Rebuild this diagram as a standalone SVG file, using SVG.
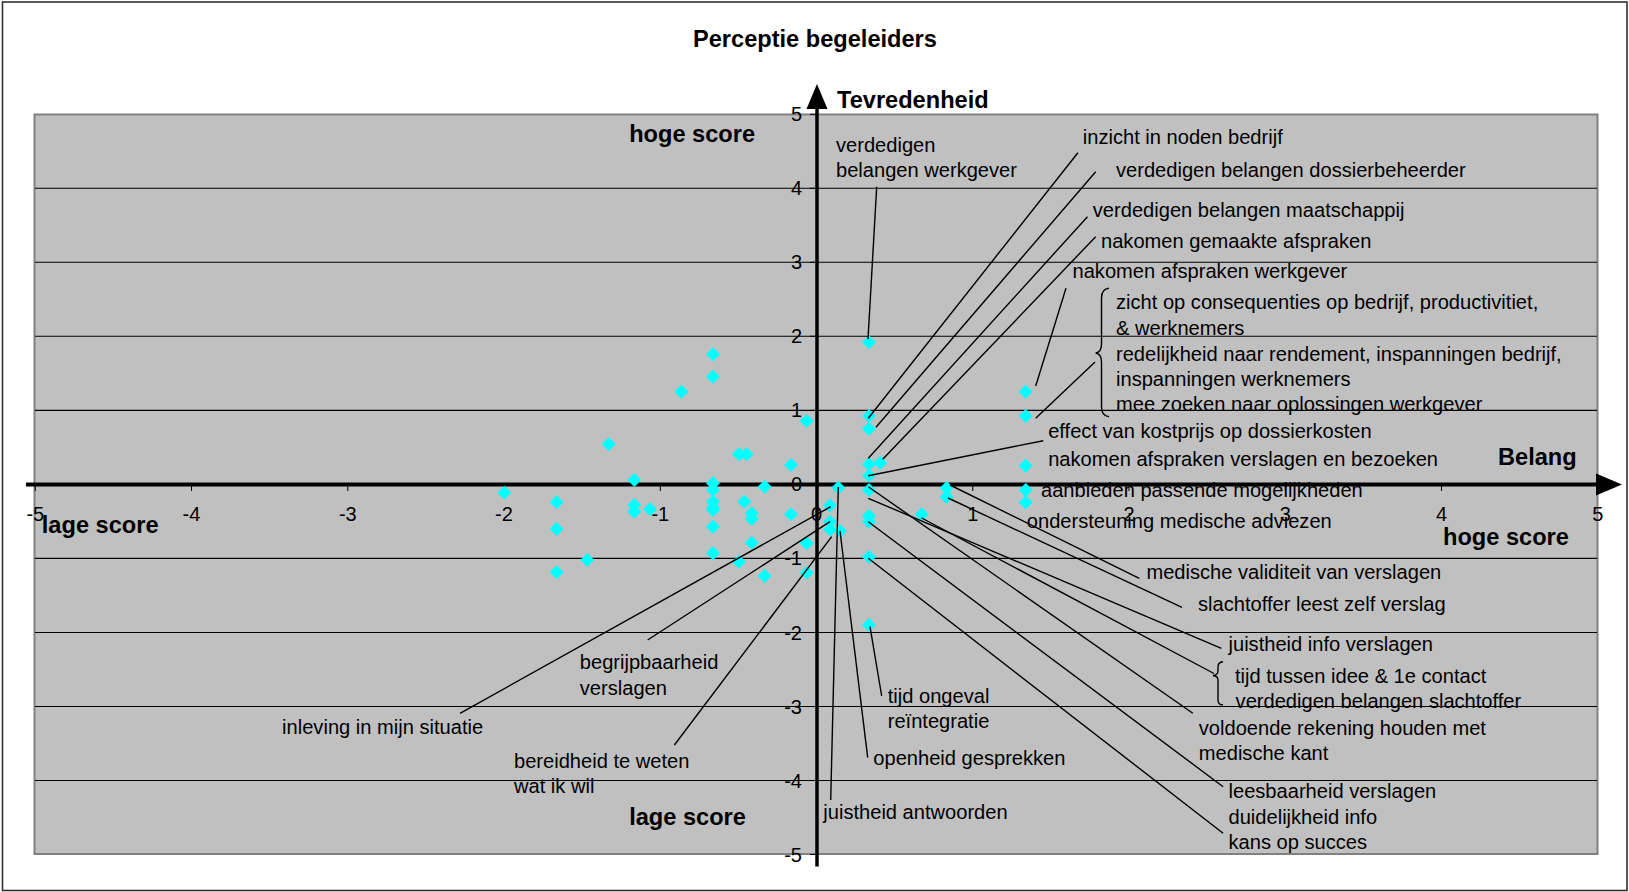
<svg xmlns="http://www.w3.org/2000/svg" xmlns:xlink="http://www.w3.org/1999/xlink" width="1629" height="892" viewBox="0 0 1629 892">
<style>
text{font-family:"Liberation Sans",Arial,sans-serif;fill:#000}
.t{font-size:20.1px}
.b{font-size:23.6px;font-weight:bold}
.tx{font-size:20px;text-anchor:middle}
.ty{font-size:20px;text-anchor:end}
.grid line{stroke:#000;stroke-width:1.1}
#connectors line,#connectors path{stroke:#000;stroke-width:1.4;fill:none}
.tick line{stroke:#000;stroke-width:1}
</style>
<defs>
<path id="d" d="M0,-7 L7,0 L0,7 L-7,0Z" fill="#00FFFF"/>
</defs>
<rect x="0" y="0" width="1629" height="892" fill="#fff"/>
<rect x="2.5" y="2" width="1624.5" height="888.5" fill="none" stroke="#333" stroke-width="1.6"/>
<g id="title"><text class="b" x="693" y="46.7">Perceptie begeleiders</text></g>
<g id="plot"><rect x="34.5" y="114.5" width="1563" height="739.5" fill="#C0C0C0" stroke="#808080" stroke-width="2"/></g>
<g class="grid" id="grid">
<line x1="35" y1="188.3" x2="1597" y2="188.3"/>
<line x1="35" y1="262.3" x2="1597" y2="262.3"/>
<line x1="35" y1="336.3" x2="1597" y2="336.3"/>
<line x1="35" y1="410.4" x2="1597" y2="410.4"/>
<line x1="35" y1="558.4" x2="1597" y2="558.4"/>
<line x1="35" y1="632.5" x2="1597" y2="632.5"/>
<line x1="35" y1="706.5" x2="1597" y2="706.5"/>
<line x1="35" y1="780.5" x2="1597" y2="780.5"/>
</g>
<g class="tick" id="ticks">
<line x1="35.3" y1="484" x2="35.3" y2="491"/>
<line x1="191.5" y1="484" x2="191.5" y2="491"/>
<line x1="347.8" y1="484" x2="347.8" y2="491"/>
<line x1="504" y1="484" x2="504" y2="491"/>
<line x1="660.3" y1="484" x2="660.3" y2="491"/>
<line x1="972.8" y1="484" x2="972.8" y2="491"/>
<line x1="1129" y1="484" x2="1129" y2="491"/>
<line x1="1285.3" y1="484" x2="1285.3" y2="491"/>
<line x1="1441.5" y1="484" x2="1441.5" y2="491"/>
<line x1="810" y1="114.3" x2="817" y2="114.3"/>
<line x1="810" y1="188.3" x2="817" y2="188.3"/>
<line x1="810" y1="262.3" x2="817" y2="262.3"/>
<line x1="810" y1="336.3" x2="817" y2="336.3"/>
<line x1="810" y1="410.4" x2="817" y2="410.4"/>
<line x1="810" y1="558.4" x2="817" y2="558.4"/>
<line x1="810" y1="632.5" x2="817" y2="632.5"/>
<line x1="810" y1="706.5" x2="817" y2="706.5"/>
<line x1="810" y1="780.5" x2="817" y2="780.5"/>
<line x1="810" y1="854.5" x2="817" y2="854.5"/>
</g>
<g id="axis-labels">
<text class="tx" x="35.3" y="520.5">-5</text>
<text class="tx" x="191.5" y="520.5">-4</text>
<text class="tx" x="347.8" y="520.5">-3</text>
<text class="tx" x="504" y="520.5">-2</text>
<text class="tx" x="660.3" y="520.5">-1</text>
<text class="tx" x="816.5" y="520.5">0</text>
<text class="tx" x="972.8" y="520.5">1</text>
<text class="tx" x="1129" y="520.5">2</text>
<text class="tx" x="1285.3" y="520.5">3</text>
<text class="tx" x="1441.5" y="520.5">4</text>
<text class="tx" x="1597.8" y="520.5">5</text>
<text class="ty" x="802" y="121.3">5</text>
<text class="ty" x="802" y="195.3">4</text>
<text class="ty" x="802" y="269.3">3</text>
<text class="ty" x="802" y="343.3">2</text>
<text class="ty" x="802" y="417.4">1</text>
<text class="ty" x="802" y="491.4">0</text>
<text class="ty" x="802" y="565.4">-1</text>
<text class="ty" x="802" y="639.5">-2</text>
<text class="ty" x="802" y="713.5">-3</text>
<text class="ty" x="802" y="787.5">-4</text>
<text class="ty" x="802" y="861.5">-5</text>
</g>
<g id="axes">
<line x1="26" y1="484.4" x2="1598" y2="484.4" stroke="#000" stroke-width="4"/>
<polygon points="1596,473.4 1622,484.4 1596,495.4" fill="#000"/>
<line x1="817" y1="866.5" x2="817" y2="107" stroke="#000" stroke-width="3.5"/>
<polygon points="806.5,109 817,84 827.5,109" fill="#000"/>
</g>
<g id="points">
<use href="#d" x="504.3" y="492.7"/>
<use href="#d" x="556.7" y="502.3"/>
<use href="#d" x="556.7" y="529"/>
<use href="#d" x="556.7" y="572.3"/>
<use href="#d" x="587.3" y="560"/>
<use href="#d" x="608.7" y="444.3"/>
<use href="#d" x="634.3" y="480"/>
<use href="#d" x="634.3" y="505"/>
<use href="#d" x="634.3" y="511.7"/>
<use href="#d" x="650" y="509.3"/>
<use href="#d" x="681.3" y="391.7"/>
<use href="#d" x="713" y="354.3"/>
<use href="#d" x="713" y="376.7"/>
<use href="#d" x="713" y="483.3"/>
<use href="#d" x="713" y="490"/>
<use href="#d" x="713" y="501.7"/>
<use href="#d" x="713" y="507.7"/>
<use href="#d" x="713" y="510"/>
<use href="#d" x="713" y="526.7"/>
<use href="#d" x="713" y="553.3"/>
<use href="#d" x="739" y="454.3"/>
<use href="#d" x="746.7" y="454.3"/>
<use href="#d" x="744.3" y="501.7"/>
<use href="#d" x="751.7" y="513.3"/>
<use href="#d" x="751.7" y="519"/>
<use href="#d" x="751.7" y="542.7"/>
<use href="#d" x="739" y="561.7"/>
<use href="#d" x="764.7" y="486.7"/>
<use href="#d" x="764.7" y="576"/>
<use href="#d" x="791" y="465"/>
<use href="#d" x="791" y="514.3"/>
<use href="#d" x="806.7" y="421"/>
<use href="#d" x="806.7" y="543.3"/>
<use href="#d" x="806.7" y="572.7"/>
<use href="#d" x="838.3" y="487.7"/>
<use href="#d" x="830" y="505.5"/>
<use href="#d" x="830" y="521.7"/>
<use href="#d" x="830" y="529.5"/>
<use href="#d" x="840" y="531"/>
<use href="#d" x="869" y="342.3"/>
<use href="#d" x="869" y="416"/>
<use href="#d" x="869" y="429"/>
<use href="#d" x="869" y="464.3"/>
<use href="#d" x="880.3" y="462.7"/>
<use href="#d" x="869" y="475.5"/>
<use href="#d" x="869" y="490"/>
<use href="#d" x="869" y="516"/>
<use href="#d" x="869" y="521.7"/>
<use href="#d" x="869" y="557"/>
<use href="#d" x="869" y="625"/>
<use href="#d" x="921.7" y="514.3"/>
<use href="#d" x="946.7" y="488"/>
<use href="#d" x="946.7" y="497"/>
<use href="#d" x="1025.7" y="391.7"/>
<use href="#d" x="1025.7" y="416"/>
<use href="#d" x="1025.7" y="465.7"/>
<use href="#d" x="1025.7" y="490"/>
<use href="#d" x="1025.7" y="502.5"/>
</g>
<g id="connectors">
<line x1="876.7" y1="186.7" x2="868" y2="339.3"/>
<line x1="1077.9" y1="152.7" x2="868.3" y2="418.3"/>
<line x1="1095.7" y1="171.7" x2="876" y2="427.3"/>
<line x1="1087.5" y1="216.7" x2="868.3" y2="458.3"/>
<line x1="1095.7" y1="236.7" x2="882.7" y2="459.3"/>
<line x1="1066" y1="288.3" x2="1035.7" y2="386"/>
<line x1="1095" y1="362" x2="1035.7" y2="418.3"/>
<path d="M1109,288.3 Q1101.5,289 1101.5,298 L1101.5,344 Q1101.5,352 1095.7,353 Q1101.5,354 1101.5,362 L1101.5,407 Q1101.5,416 1109,416.7"/>
<line x1="1043.3" y1="440.7" x2="868.3" y2="475.7"/>
<line x1="950" y1="485" x2="1139.3" y2="578.3"/>
<line x1="948" y1="498" x2="1182" y2="607.3"/>
<line x1="868.3" y1="498.3" x2="1221.4" y2="648.3"/>
<line x1="921.7" y1="518" x2="1214" y2="673.5"/>
<path d="M1223,661.7 Q1218,662 1218,667 L1218,671 Q1218,675 1213,675.5 Q1218,676 1218,680 L1218,700 Q1218,705 1223,705"/>
<line x1="868.3" y1="486.7" x2="1192.8" y2="713.3"/>
<line x1="868.3" y1="521.7" x2="1223.1" y2="786.7"/>
<line x1="868.3" y1="558.3" x2="1223.1" y2="833.3"/>
<line x1="870" y1="626.7" x2="881.7" y2="696"/>
<line x1="840" y1="531" x2="867.7" y2="757.7"/>
<line x1="838.3" y1="487" x2="830.7" y2="800"/>
<line x1="830.7" y1="506.7" x2="460" y2="713.3"/>
<line x1="830" y1="521.7" x2="647.6" y2="640"/>
<line x1="831.7" y1="536.7" x2="674.4" y2="745"/>
</g>
<g id="corner-labels">
<text class="b" x="629.2" y="141.7">hoge score</text>
<text class="b" x="41.8" y="532.7">lage score</text>
<text class="b" x="1443" y="544.5">hoge score</text>
<text class="b" x="629.2" y="825">lage score</text>
<text class="b" x="837" y="108.3">Tevredenheid</text>
<text class="b" x="1498" y="465">Belang</text>
</g>
<g id="label-werkgever"><text class="t" x="836" y="151.7">verdedigen</text><text class="t" x="836" y="176.7">belangen werkgever</text></g>
<g id="label-inzicht"><text class="t" x="1082.8" y="144">inzicht in noden bedrijf</text></g>
<g id="label-dossierbeheerder"><text class="t" x="1116" y="176.7">verdedigen belangen dossierbeheerder</text></g>
<g id="label-maatschappij"><text class="t" x="1092.8" y="217.3">verdedigen belangen maatschappij</text></g>
<g id="label-gemaakte"><text class="t" x="1101" y="248.3">nakomen gemaakte afspraken</text></g>
<g id="label-afspraken-werkgever"><text class="t" x="1072.5" y="278.3">nakomen afspraken werkgever</text></g>
<g id="label-brace-group">
<text class="t" x="1116" y="309.3">zicht op consequenties op bedrijf, productivitiet,</text>
<text class="t" x="1116" y="335">&amp; werknemers</text>
<text class="t" x="1116" y="360.7">redelijkheid naar rendement, inspanningen bedrijf,</text>
<text class="t" x="1116" y="386">inspanningen werknemers</text>
<text class="t" x="1116" y="411">mee zoeken naar oplossingen werkgever</text>
</g>
<g id="label-effect"><text class="t" x="1048.2" y="438.3">effect van kostprijs op dossierkosten</text></g>
<g id="label-verslagen-bezoeken"><text class="t" x="1048.2" y="466">nakomen afspraken verslagen en bezoeken</text></g>
<g id="label-aanbieden"><text class="t" x="1041" y="496.7">aanbieden passende mogelijkheden</text></g>
<g id="label-ondersteuning"><text class="t" x="1026.8" y="527.7">ondersteuning medische adviezen</text></g>
<g id="label-validiteit"><text class="t" x="1146.4" y="579">medische validiteit van verslagen</text></g>
<g id="label-slachtoffer-leest"><text class="t" x="1198" y="610.7">slachtoffer leest zelf verslag</text></g>
<g id="label-juistheid-info"><text class="t" x="1228.5" y="650.7">juistheid info verslagen</text></g>
<g id="label-tijd-tussen"><text class="t" x="1235" y="682.7">tijd tussen idee &amp; 1e contact</text><text class="t" x="1235.6" y="708.3">verdedigen belangen slachtoffer</text></g>
<g id="label-voldoende"><text class="t" x="1198.8" y="735">voldoende rekening houden met</text><text class="t" x="1198.8" y="760">medische kant</text></g>
<g id="label-leesbaarheid"><text class="t" x="1228.5" y="798.3">leesbaarheid verslagen</text><text class="t" x="1228.5" y="824.3">duidelijkheid info</text><text class="t" x="1228.5" y="849.3">kans op succes</text></g>
<g id="label-tijd-ongeval"><text class="t" x="887.7" y="703.3">tijd ongeval</text><text class="t" x="887.7" y="728.3">reïntegratie</text></g>
<g id="label-openheid"><text class="t" x="873.3" y="765">openheid gesprekken</text></g>
<g id="label-juistheid-antwoorden"><text class="t" x="823.3" y="819.3">juistheid antwoorden</text></g>
<g id="label-bereidheid"><text class="t" x="514" y="767.7">bereidheid te weten</text><text class="t" x="514" y="793.3">wat ik wil</text></g>
<g id="label-inleving"><text class="t" x="282.1" y="734">inleving in mijn situatie</text></g>
<g id="label-begrijpbaarheid"><text class="t" x="579.8" y="669.3">begrijpbaarheid</text><text class="t" x="579.8" y="695">verslagen</text></g>
</svg>
